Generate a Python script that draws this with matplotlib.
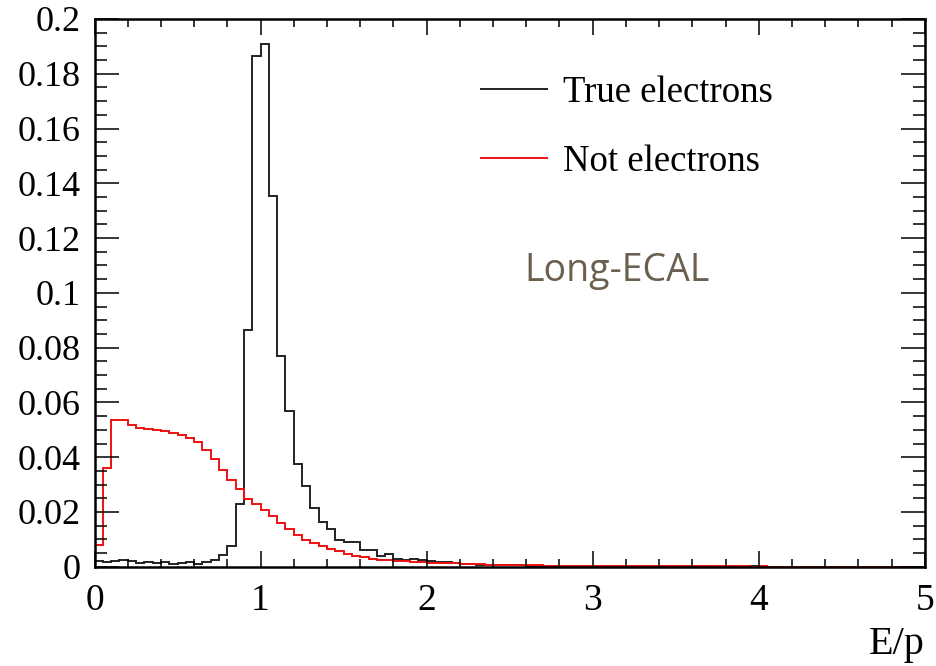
import numpy as np
import matplotlib.pyplot as plt
from matplotlib.lines import Line2D
from matplotlib.ticker import MultipleLocator

# ----------------------------------
# Histogram data (E/p, 100 bins of 0.05 from 0 to 5)
# ----------------------------------
bin_edges = np.linspace(0, 5, 101)

true_electrons = [
    0.0020, 0.0018, 0.0022, 0.0026, 0.0022, 0.0015, 0.0018, 0.0012, 0.0016, 0.0011,
    0.0013, 0.0016, 0.0011, 0.0016, 0.0023, 0.0044, 0.0077, 0.0229, 0.0865, 0.1865,
    0.1908, 0.1355, 0.0771, 0.0569, 0.0375, 0.0296, 0.0214, 0.0165, 0.0137, 0.0099,
    0.0092, 0.0092, 0.0062, 0.0062, 0.0041, 0.0045, 0.0027, 0.0025, 0.0027, 0.0026,
    0.0021, 0.0018, 0.0016, 0.0013, 0.0011, 0.0010, 0.0008, 0.0007, 0.0007, 0.0006,
    0.0005, 0.0005, 0.0004, 0.0004, 0.0003, 0.0003, 0.0003, 0.0002, 0.0002, 0.0002,
    0.0002, 0.0002, 0.0001, 0.0001, 0.0001, 0.0001, 0.0001, 0.0001, 0.0001, 0.0001,
    0.0001, 0.0001, 0.0001, 0.0001, 0.0001, 0.0000, 0.0001, 0.0000, 0.0000, 0.0001,
    0.0000, 0.0000, 0.0000, 0.0000, 0.0000, 0.0000, 0.0000, 0.0000, 0.0000, 0.0000,
    0.0000, 0.0000, 0.0000, 0.0000, 0.0000, 0.0000, 0.0000, 0.0000, 0.0000, 0.0000,
]

not_electrons = [
    0.0080, 0.0360, 0.0536, 0.0536, 0.0516, 0.0506, 0.0502, 0.0500, 0.0497, 0.0490,
    0.0482, 0.0470, 0.0455, 0.0427, 0.0393, 0.0354, 0.0318, 0.0284, 0.0247, 0.0229,
    0.0208, 0.0184, 0.0160, 0.0138, 0.0117, 0.0099, 0.0086, 0.0074, 0.0065, 0.0056,
    0.0047, 0.0040, 0.0035, 0.0030, 0.0026, 0.0024, 0.0021, 0.0020, 0.0018, 0.0017,
    0.0015, 0.0014, 0.0013, 0.0012, 0.0011, 0.0010, 0.0009, 0.0008, 0.0008, 0.0007,
    0.0006, 0.0006, 0.0005, 0.0005, 0.0004, 0.0004, 0.0004, 0.0003, 0.0003, 0.0003,
    0.0003, 0.0002, 0.0002, 0.0002, 0.0002, 0.0002, 0.0001, 0.0001, 0.0001, 0.0001,
    0.0001, 0.0001, 0.0001, 0.0001, 0.0001, 0.0001, 0.0001, 0.0001, 0.0001, 0.0000,
    0.0001, 0.0000, 0.0000, 0.0000, 0.0000, 0.0000, 0.0000, 0.0000, 0.0000, 0.0000,
    0.0000, 0.0000, 0.0000, 0.0000, 0.0000, 0.0000, 0.0000, 0.0000, 0.0000, 0.0000,
]

x_ticks = [0, 1, 2, 3, 4, 5]
y_ticks = [0, 0.02, 0.04, 0.06, 0.08, 0.1, 0.12, 0.14, 0.16, 0.18, 0.2]
y_tick_labels = ["0", "0.02", "0.04", "0.06", "0.08", "0.1",
                 "0.12", "0.14", "0.16", "0.18", "0.2"]

# ----------------------------------
# Figure
# ----------------------------------
plt.rcParams['font.family'] = ['Liberation Serif', 'DejaVu Serif']

fig = plt.figure(figsize=(9.36, 6.66), dpi=100)
ax = fig.add_axes([0.101, 0.149, 0.887, 0.8225])

ax.stairs(true_electrons, bin_edges, color='#222222', linewidth=1.4)
ax.stairs(not_electrons, bin_edges, color='#ee1111', linewidth=1.4)

ax.set_xlim(0, 5)
ax.set_ylim(0, 0.2)

ax.set_xticks(x_ticks)
ax.set_xticklabels([str(t) for t in x_ticks])
ax.set_yticks(y_ticks)
ax.set_yticklabels(y_tick_labels)
ax.xaxis.set_minor_locator(MultipleLocator(0.2))
ax.yaxis.set_minor_locator(MultipleLocator(0.005))

ax.tick_params(axis='both', which='both', direction='in', top=True, right=True,
               width=1.1, colors='black')
ax.tick_params(axis='x', which='major', length=11.5, pad=12, labelsize=27)
ax.tick_params(axis='x', which='minor', length=5.8)
ax.tick_params(axis='y', which='major', length=17.5, pad=10, labelsize=26)
ax.tick_params(axis='y', which='minor', length=8.5)

for s in ax.spines.values():
    s.set_linewidth(1.8)

ax.set_xlabel("E/p", fontsize=29, loc='right', labelpad=6)

handles = [
    Line2D([], [], color='#222222', linewidth=1.4),
    Line2D([], [], color='#ee1111', linewidth=1.4),
]
ax.legend(handles, ["True electrons", "Not electrons"],
          loc='upper left', bbox_to_anchor=(0.465, 0.897),
          frameon=False, fontsize=26.5, handlelength=1.8,
          handletextpad=0.45, labelspacing=0.95,
          borderaxespad=0, borderpad=0)

ax.text(0.629, 0.54, "Long-ECAL", transform=ax.transAxes,
        ha='center', va='center', fontsize=27, color='#6b5f50',
        family=['Open Sans', 'DejaVu Sans'])

fig.savefig("out.png", dpi=100)
